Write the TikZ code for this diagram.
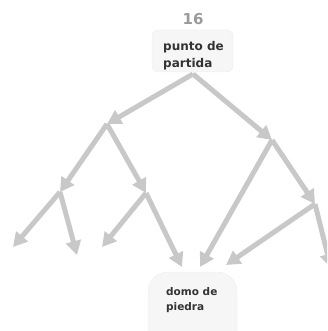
\documentclass[tikz,border=0pt]{standalone}
\usepackage{fontspec}
\setmainfont{DejaVu Sans}
\usetikzlibrary{arrows.meta}
\definecolor{edgegray}{HTML}{C8C8C8}
\definecolor{txtgray}{HTML}{333333}
\definecolor{numgray}{HTML}{9A9A9A}
\definecolor{boxfill}{HTML}{F6F6F6}
\definecolor{boxline}{HTML}{ECECEC}
\tikzset{
  link/.style={draw=edgegray, line width=5pt, -{Triangle[length=14pt,width=15pt]}},
  boxtext/.style={text=txtgray, align=left, inner sep=0pt}
}
\begin{document}
\begin{tikzpicture}[x=1pt,y=-1pt]
\useasboundingbox (0,0) rectangle (327,331);
\clip (0,0) rectangle (327,331);
\coordinate (R) at (193,74);
\coordinate (A) at (107,124);
\coordinate (D) at (272,140);
\coordinate (B) at (60,192);
\coordinate (C) at (146,193);
\coordinate (L1) at (13,247);
\coordinate (L2) at (77,255);
\coordinate (L3) at (102,247);
\coordinate (M1) at (182,267);
\coordinate (M2) at (200,267);
\coordinate (E) at (315,204);
\coordinate (M3) at (226,265);
\coordinate (L4) at (331,268);
\draw[link] (R) -- (A);
\draw[link] (R) -- (D);
\draw[link] (A) -- (B);
\draw[link] (A) -- (C);
\draw[link] (B) -- (L1);
\draw[link] (B) -- (L2);
\draw[link] (C) -- (L3);
\draw[link] (C) -- (M1);
\draw[link] (D) -- (M2);
\draw[link] (D) -- (E);
\draw[link] (E) -- (M3);
\draw[link] (E) -- (L4);
% top box
\draw[draw=boxline, fill=boxfill, rounded corners=6pt] (152,30) rectangle (233,72);
\begin{scope}
  \clip (152,30) rectangle (233,72);
  \node[boxtext, font=\bfseries\fontsize{12}{17}\selectfont, anchor=north west] (start) at (163,41) {punto de\\partida};
\end{scope}
\node[font=\bfseries\fontsize{15}{17}\selectfont, text=numgray] (num) at (193,19) {16};
% bottom box
\draw[draw=boxline, fill=boxfill, rounded corners=20pt] (148,345) -- (148,272) -- (237,272) -- (237,345);
\node[boxtext, font=\bfseries\fontsize{10.5}{15}\selectfont, anchor=north west] (goal) at (166,287) {domo de\\piedra};
\end{tikzpicture}
\end{document}
